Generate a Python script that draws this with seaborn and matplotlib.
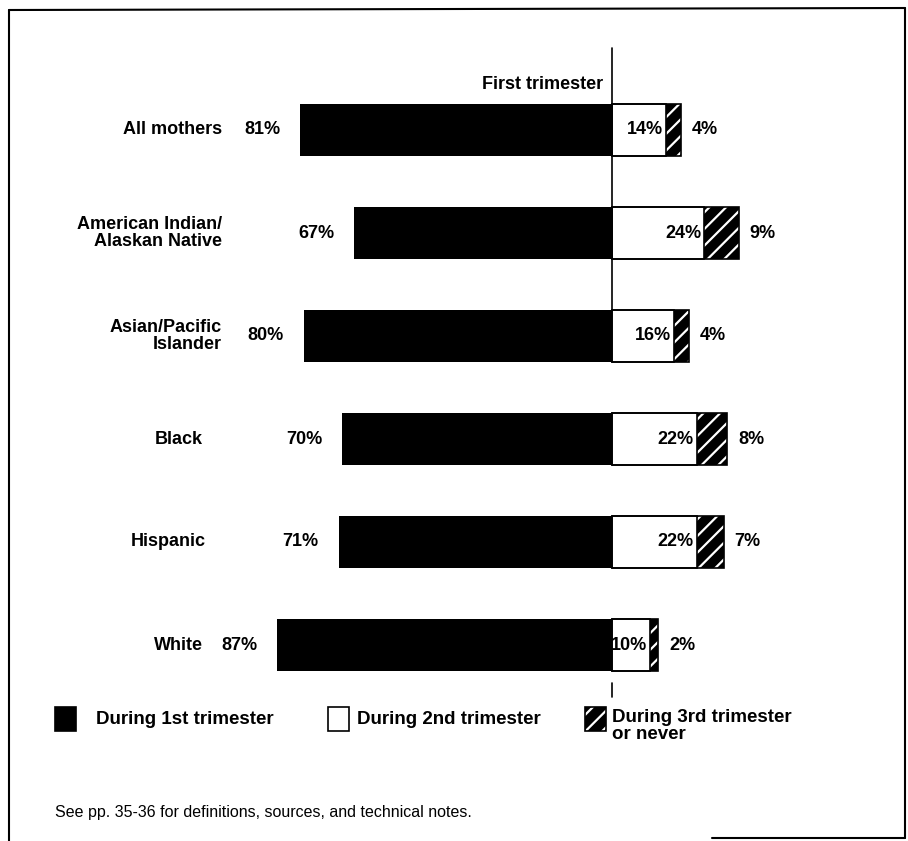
"""Diverging bar chart: timing of first prenatal care by race/ethnicity of mother."""

import numpy as np
import pandas as pd
import matplotlib
matplotlib.use("Agg")
import matplotlib.pyplot as plt
from matplotlib.patches import Rectangle
from matplotlib.lines import Line2D
import seaborn as sns

groups = ["All mothers", "American Indian/\nAlaskan Native", "Asian/Pacific\nIslander",
          "Black", "Hispanic", "White"]
first_tri = [81, 67, 80, 70, 71, 87]
second_tri = [14, 24, 16, 22, 22, 10]
third_tri = [4, 9, 4, 8, 7, 2]
legend_labels = ["During 1st trimester", "During 2nd trimester", "During 3rd trimester\nor never"]

W, H = 908, 841
PX_PER_PCT = 3.85
CENTER_PX = 612
ROW0_PX, ROW_STEP = 130, 103
LABEL_RIGHT_PX = [222, 222, 222, 203, 206, 203]
FS = 13

sns.set_style("white")
plt.rcParams["font.family"] = ["Liberation Sans", "DejaVu Sans"]
plt.rcParams["text.color"] = "black"
plt.rcParams["hatch.linewidth"] = 1.6

df = pd.DataFrame({
    "group": groups,
    "first": -np.array(first_tri),
    "second": np.array(second_tri),
    "total": np.array(second_tri) + np.array(third_tri),
})

fig = plt.figure(figsize=(W / 100, H / 100), dpi=100)
ax = fig.add_axes([0, 0, 1, 1])

bar_kw = dict(y="group", data=df, order=groups, orient="h", width=0.5,
              saturation=1, errorbar=None, ax=ax)
sns.barplot(x="first", color="black", linewidth=0, **bar_kw)
sns.barplot(x="total", color="black", edgecolor="white", linewidth=0, hatch="//", **bar_kw)
sns.barplot(x="second", color="white", edgecolor="black", linewidth=1.2, **bar_kw)
sns.barplot(x="total", fill=False, edgecolor="black", linewidth=1.2, **bar_kw)

ax.set_xlim(-CENTER_PX / PX_PER_PCT, (W - CENTER_PX) / PX_PER_PCT)
ax.set_ylim((H - ROW0_PX) / ROW_STEP, -ROW0_PX / ROW_STEP)
ax.axis("off")

# center reference line
ax.plot([0, 0], [-0.8, 1.75], color="black", lw=1.2)
ax.plot([0, 0], [5.37, 5.5], color="black", lw=1.2)
ax.text(-2.4, -0.44, "First trimester", ha="right", va="center",
        fontsize=FS, fontweight="bold")

for i, g in enumerate(groups):
    lx = (LABEL_RIGHT_PX[i] - CENTER_PX) / PX_PER_PCT
    ax.text(lx, i, g, ha="right", va="center", fontsize=FS,
            fontweight="bold", linespacing=1.0)
    ax.text(-first_tri[i] - 5.2, i, f"{first_tri[i]}%", ha="right", va="center",
            fontsize=FS, fontweight="bold")
    ax.text(second_tri[i] - 0.8, i, f"{second_tri[i]}%", ha="right", va="center",
            fontsize=FS, fontweight="bold")
    ax.text(second_tri[i] + third_tri[i] + 2.8, i, f"{third_tri[i]}%", ha="left",
            va="center", fontsize=FS, fontweight="bold")


def fx(px):
    return px / W


def fy(py):
    return 1 - py / H


# legend
swatches = [
    dict(facecolor="black", edgecolor="black"),
    dict(facecolor="white", edgecolor="black"),
    dict(facecolor="black", edgecolor="white", hatch="//"),
]
swatch_x = [55, 328, 585]
text_x = [96, 357, 612]
for sx, tx, style, lab in zip(swatch_x, text_x, swatches, legend_labels):
    fig.patches.append(Rectangle((fx(sx), fy(731)), fx(21), 24 / H, lw=0,
                                 transform=fig.transFigure, **style))
    fig.patches.append(Rectangle((fx(sx), fy(731)), fx(21), 24 / H, fill=False,
                                 edgecolor="black", lw=1.2, transform=fig.transFigure))
    multi = "\n" in lab
    fig.text(fx(tx), fy(709) if multi else fy(720), lab, ha="left",
             va="top" if multi else "center", fontsize=13.5, fontweight="bold",
             linespacing=1.0)

fig.text(fx(55), fy(812), "See pp. 35-36 for definitions, sources, and technical notes.",
         ha="left", va="center", fontsize=11.5)

# page frame
frame = [((9, 9), (10, 841)), ((9, 905), (10, 8)), ((905, 905), (8, 838)),
         ((712, 905), (838, 838))]
for xs, ys in frame:
    fig.lines.append(Line2D([fx(x) for x in xs], [fy(y) for y in ys], color="black",
                            lw=1.5, transform=fig.transFigure))

fig.savefig("out.png", dpi=100)
plt.close(fig)
